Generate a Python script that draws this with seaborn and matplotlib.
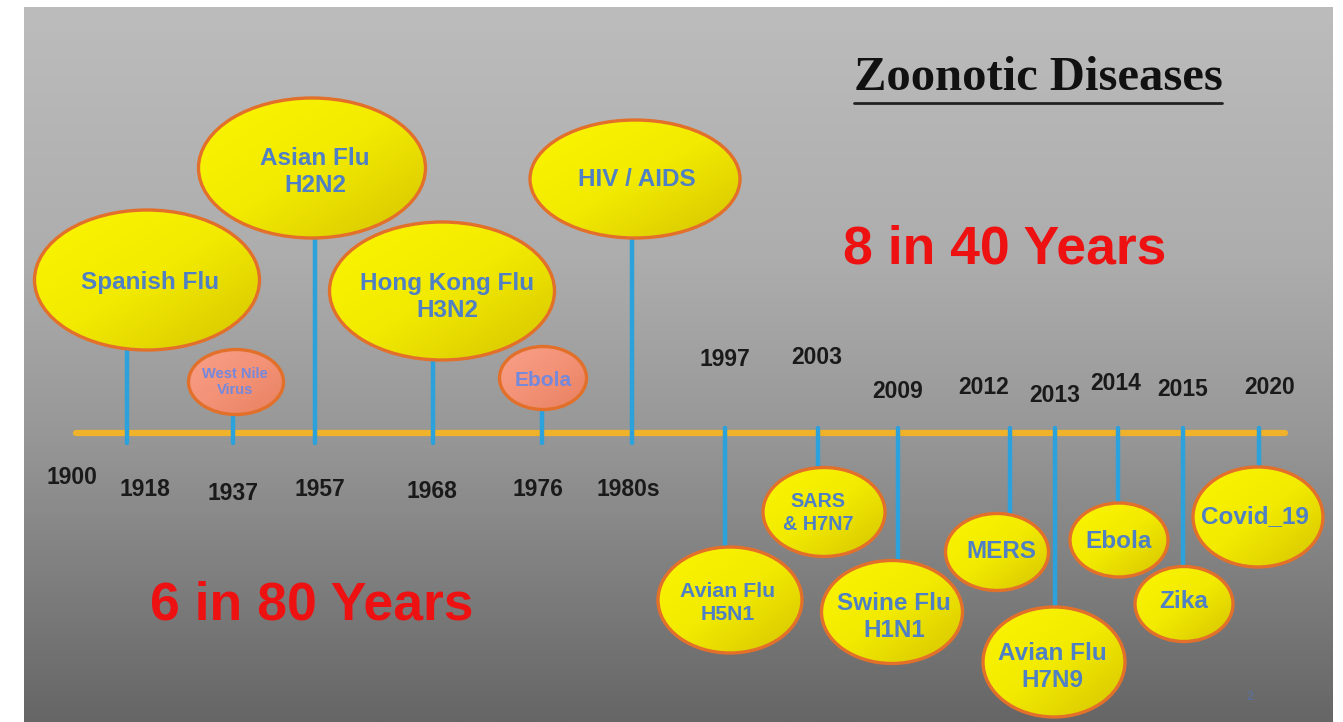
import numpy as np
import matplotlib.pyplot as plt
from matplotlib.patches import Ellipse
from matplotlib.colors import LinearSegmentedColormap
import seaborn as sns

# values
diseases = ["Spanish Flu", "West Nile\nVirus", "Asian Flu\nH2N2", "Hong Kong Flu\nH3N2",
            "Ebola", "HIV / AIDS", "Avian Flu\nH5N1", "SARS\n& H7N7", "Swine Flu\nH1N1",
            "MERS", "Avian Flu\nH7N9", "Ebola", "Zika", "Covid_19"]
years = ["1918", "1937", "1957", "1968", "1976", "1980s", "1997", "2003", "2009",
         "2012", "2013", "2014", "2015", "2020"]
minor = [False, True, False, False, True, False] + [False] * 8
above = [True] * 6 + [False] * 8
start_label = "1900"
era_labels = ["6 in 80 Years", "8 in 40 Years"]
title = "Zoonotic Diseases"

# layout in pixel units
stem_x = [127, 233, 315, 433, 542, 632, 725, 818, 898, 1010, 1055, 1118, 1183, 1259]
stem_end = [345, 413, 237, 358, 410, 236, 548, 468, 560, 513, 607, 503, 567, 468]
bub_x = [147, 236, 312, 442, 543, 635, 730, 824, 892, 997, 1054, 1119, 1184, 1258]
bub_y = [280, 382, 168, 291, 378, 179, 600, 512, 612, 552, 662, 540, 604, 517]
bub_w = [225, 95, 227, 225, 87, 210, 144, 122, 141, 103, 142, 98, 98, 130]
bub_h = [140, 65, 140, 138, 63, 118, 106, 89, 103, 77, 110, 74, 75, 100]
txt_dx = [3, -1, 3, 5, 0, 2, -2, -6, 2, 4, -2, 0, 0, -3]
txt_dy = [2, 0, 4, 6, 2, 1, 3, 1, 5, 0, 5, 2, -2, 0]
txt_size = [17.5, 10.5, 17.5, 17.5, 15, 17.5, 15.3, 14.2, 17.5, 17.5, 17.5, 17.5, 17.5, 17.5]
year_x = [145, 233, 320, 432, 538, 628, 725, 817, 898, 984, 1055, 1116, 1183, 1270]
year_y = [490, 494, 490, 492, 490, 490, 360, 358, 392, 388, 396, 384, 390, 387]

W, H = 1343, 722
LINE_Y = 433

sns.set_theme(style="white")
plt.rcParams["font.family"] = ["Liberation Sans", "DejaVu Sans"]

fig = plt.figure(figsize=(W / 100, H / 100), dpi=100)
ax = fig.add_axes([0, 0, 1, 1])
ax.set_xlim(0, W)
ax.set_ylim(H, 0)
ax.axis("off")

# grey slide background
grey = LinearSegmentedColormap.from_list(
    "slide", [(0, "#bcbcbc"), (0.35, "#adadad"), (0.6, "#979797"), (1, "#666666")])
grad = np.linspace(0, 1, 256)[:, None]
ax.imshow(grad, cmap=grey, aspect="auto", extent=(24, 1333, H, 7), zorder=0)

# timeline
sns.lineplot(x=[76, 1285], y=[LINE_Y, LINE_Y], color="#f0b22a", lw=4.5, ax=ax, zorder=2)

yellow = LinearSegmentedColormap.from_list("bub", ["#fbf600", "#f2ea00", "#d6c400"])
salmon = LinearSegmentedColormap.from_list("bub2", ["#f8a088", "#f39277", "#e8805f"])
diag = np.add.outer(np.linspace(0, 1, 64), np.linspace(0, 1, 64)) / 2

for i, name in enumerate(diseases):
    y0 = LINE_Y + 10 if above[i] else LINE_Y - 5
    ax.plot([stem_x[i], stem_x[i]], [y0, stem_end[i]], color="#2ba2dc", lw=3.2,
            solid_capstyle="round", zorder=3)

    e = Ellipse((bub_x[i], bub_y[i]), bub_w[i], bub_h[i], facecolor="none",
                edgecolor="#e3702a", lw=2.4, zorder=5)
    ax.add_patch(e)
    x0, x1 = bub_x[i] - bub_w[i] / 2, bub_x[i] + bub_w[i] / 2
    ya, yb = bub_y[i] - bub_h[i] / 2, bub_y[i] + bub_h[i] / 2
    im = ax.imshow(diag, cmap=salmon if minor[i] else yellow, aspect="auto",
                   extent=(x0, x1, yb, ya), zorder=4)
    im.set_clip_path(e)

    ax.text(bub_x[i] + txt_dx[i], bub_y[i] + txt_dy[i], name, ha="center", va="center",
            fontsize=txt_size[i], fontweight="bold",
            color="#7488dc" if minor[i] else "#4f7fc4",
            linespacing=1.25, zorder=6)

    ax.text(year_x[i], year_y[i], years[i], ha="center", va="center", fontsize=16.5,
            fontweight="bold", color="#1a1a1a", zorder=6)

ax.text(72, 477, start_label, ha="center", va="center", fontsize=16.5,
        fontweight="bold", color="#1a1a1a", zorder=6)

ax.text(312, 605, era_labels[0], ha="center", va="center", fontsize=38.5,
        fontweight="bold", color="#ee1111", zorder=6)
ax.text(1005, 250, era_labels[1], ha="center", va="center", fontsize=38.5,
        fontweight="bold", color="#ee1111", zorder=6)

t = ax.text(1038, 78, title, ha="center", va="center", fontsize=35, fontweight="bold",
            color="#111111", family=["Liberation Serif", "DejaVu Serif"], zorder=6)
fig.canvas.draw()
bb = t.get_window_extent().transformed(ax.transData.inverted())
ax.plot([min(bb.x0, bb.x1), max(bb.x0, bb.x1)], [103, 103], color="#222222", lw=2, zorder=6)

ax.text(1250, 697, "2", ha="center", va="center", fontsize=9, color="#4a78d0",
        alpha=0.6, zorder=6)

fig.savefig("out.png", dpi=100, facecolor="white")
